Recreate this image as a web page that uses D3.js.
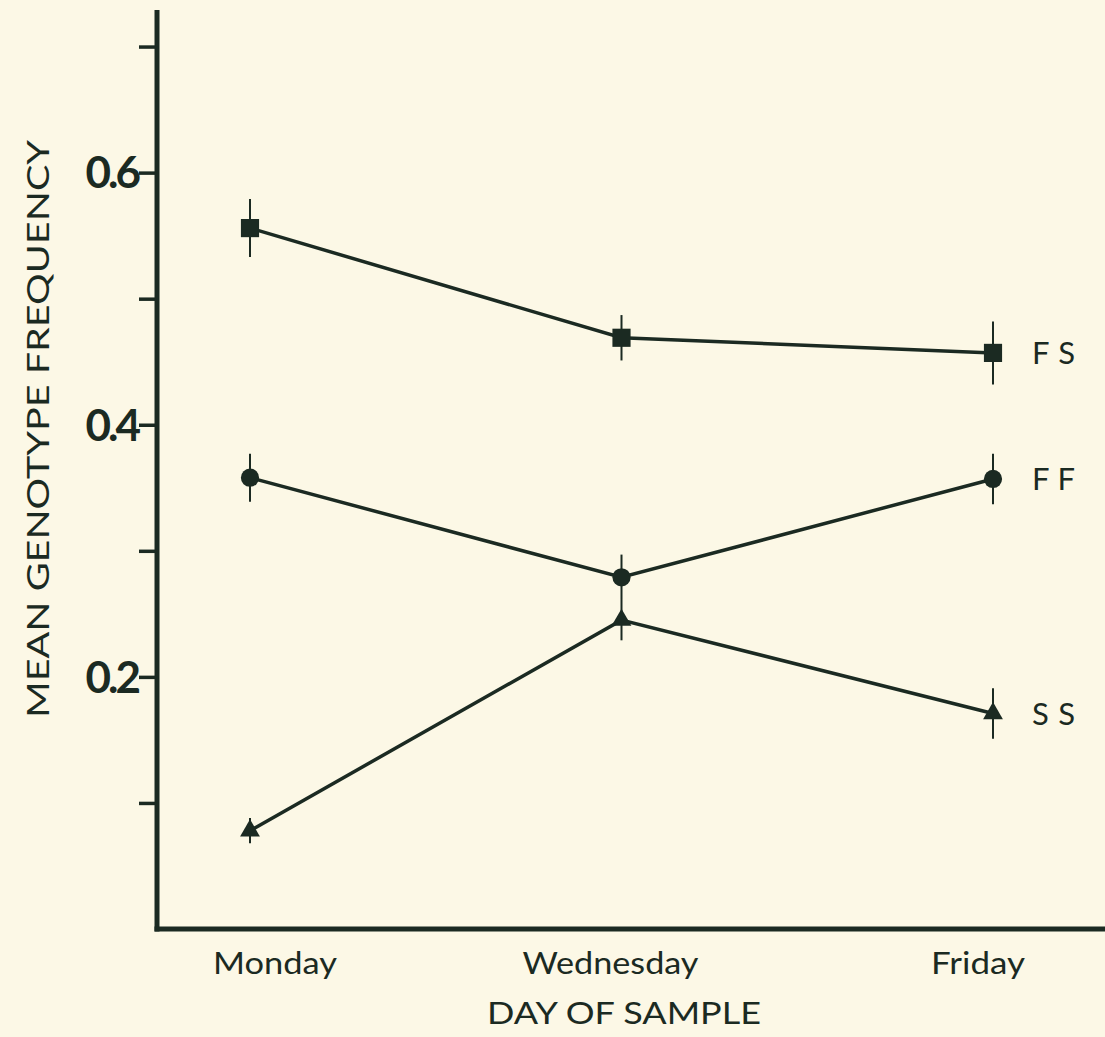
<!DOCTYPE html>
<html><head><meta charset="utf-8">
<script src="https://cdn.jsdelivr.net/npm/d3@7"></script>
<style>
html,body{margin:0;padding:0;background:#fcf8e6;}
svg{display:block;}
</style></head>
<body>
<script>
const days = ["Monday", "Wednesday", "Friday"];
const fsValues = [0.556, 0.469, 0.457];
const fsErr = [0.023, 0.018, 0.025];
const ffValues = [0.358, 0.279, 0.357];
const ffErr = [0.019, 0.018, 0.020];
const ssValues = [0.078, 0.245, 0.171];
const ssErr = [0.010, 0.016, 0.020];
const seriesNames = ["FS", "FF", "SS"];
const yTicks = [0.1, 0.2, 0.3, 0.4, 0.5, 0.6, 0.7];
const yTickLabels = [0.2, 0.4, 0.6];
const xTitle = "DAY OF SAMPLE";
const yTitle = "MEAN GENOTYPE FREQUENCY";

const W = 1105, H = 1037;
const ink = "#1b2a22";
const font = "Lato, 'Open Sans', sans-serif";

const svg = d3.select("body").append("svg").attr("width", W).attr("height", H);
svg.append("rect").attr("width", W).attr("height", H).attr("fill", "#fcf8e6");

const y = d3.scaleLinear().domain([0, 0.729]).range([929, 10]);
const x = d3.scalePoint().domain(days).range([250, 993]);
const axisX = 157;

// y axis
const yAxis = d3.axisLeft(y).tickValues(yTicks).tickSize(18).tickFormat("");
const gy = svg.append("g").attr("transform", `translate(${axisX},0)`).call(yAxis);
gy.select(".domain").remove();
gy.selectAll(".tick line").attr("stroke", ink).attr("stroke-width", 3.5);
svg.append("line").attr("x1", axisX).attr("x2", axisX).attr("y1", y(0.729)).attr("y2", y(0) + 2.5)
  .attr("stroke", ink).attr("stroke-width", 5);
svg.selectAll("text.ytl").data(yTickLabels).join("text").attr("class", "ytl")
  .attr("x", 138).attr("y", d => y(d)).attr("dy", "0.36em")
  .attr("text-anchor", "end").attr("font-family", font).attr("font-weight", 700)
  .attr("font-size", 44).attr("letter-spacing", -3).attr("fill", ink)
  .text(d => d3.format(".1f")(d));

// x axis line
svg.append("line").attr("x1", axisX - 2.5).attr("x2", W).attr("y1", y(0)).attr("y2", y(0))
  .attr("stroke", ink).attr("stroke-width", 5);
const labelOffsets = [25, -11, -15];
const labelWidths = [124, 176, 94];
svg.selectAll("text.xtl").data(days).join("text").attr("class", "xtl")
  .attr("x", (d, i) => x(d) + labelOffsets[i]).attr("y", 974)
  .attr("text-anchor", "middle").attr("font-family", font).attr("font-size", 31).attr("fill", ink)
  .attr("textLength", (d, i) => labelWidths[i]).attr("lengthAdjust", "spacingAndGlyphs")
  .text(d => d);
svg.append("text").attr("x", 624).attr("y", 1024).attr("text-anchor", "middle")
  .attr("font-family", font).attr("font-size", 31).attr("fill", ink)
  .attr("textLength", 274).attr("lengthAdjust", "spacingAndGlyphs").text(xTitle);
svg.append("text").attr("transform", `translate(49,429) rotate(-90)`).attr("text-anchor", "middle")
  .attr("font-family", font).attr("font-size", 30).attr("fill", ink)
  .attr("textLength", 578).attr("lengthAdjust", "spacingAndGlyphs").text(yTitle);

const series = [
  {name: seriesNames[0], vals: fsValues, err: fsErr, shape: d3.symbolSquare, size: 330},
  {name: seriesNames[1], vals: ffValues, err: ffErr, shape: d3.symbolCircle, size: 260},
  {name: seriesNames[2], vals: ssValues, err: ssErr, shape: d3.symbolTriangle, size: 170}
];
const line = d3.line().x(d => x(d.day)).y(d => y(d.v));
series.forEach(s => {
  const pts = days.map((d, i) => ({day: d, v: s.vals[i], e: s.err[i]}));
  const g = svg.append("g");
  g.selectAll("line.err").data(pts).join("line").attr("class", "err")
    .attr("x1", d => x(d.day)).attr("x2", d => x(d.day))
    .attr("y1", d => y(d.v + d.e)).attr("y2", d => y(d.v - d.e))
    .attr("stroke", ink).attr("stroke-width", 2);
  g.append("path").attr("d", line(pts)).attr("fill", "none").attr("stroke", ink).attr("stroke-width", 3.5);
  g.selectAll("path.m").data(pts).join("path").attr("class", "m")
    .attr("transform", d => `translate(${x(d.day)},${y(d.v)})`)
    .attr("d", d3.symbol().type(s.shape).size(s.size)).attr("fill", ink);
  g.append("text").attr("x", 1032).attr("y", y(s.vals[2])).attr("dy", "0.36em")
    .attr("font-family", font).attr("font-size", 31).attr("fill", ink)
    .attr("textLength", 43).attr("lengthAdjust", "spacing").text(s.name);
});
</script>
</body></html>
